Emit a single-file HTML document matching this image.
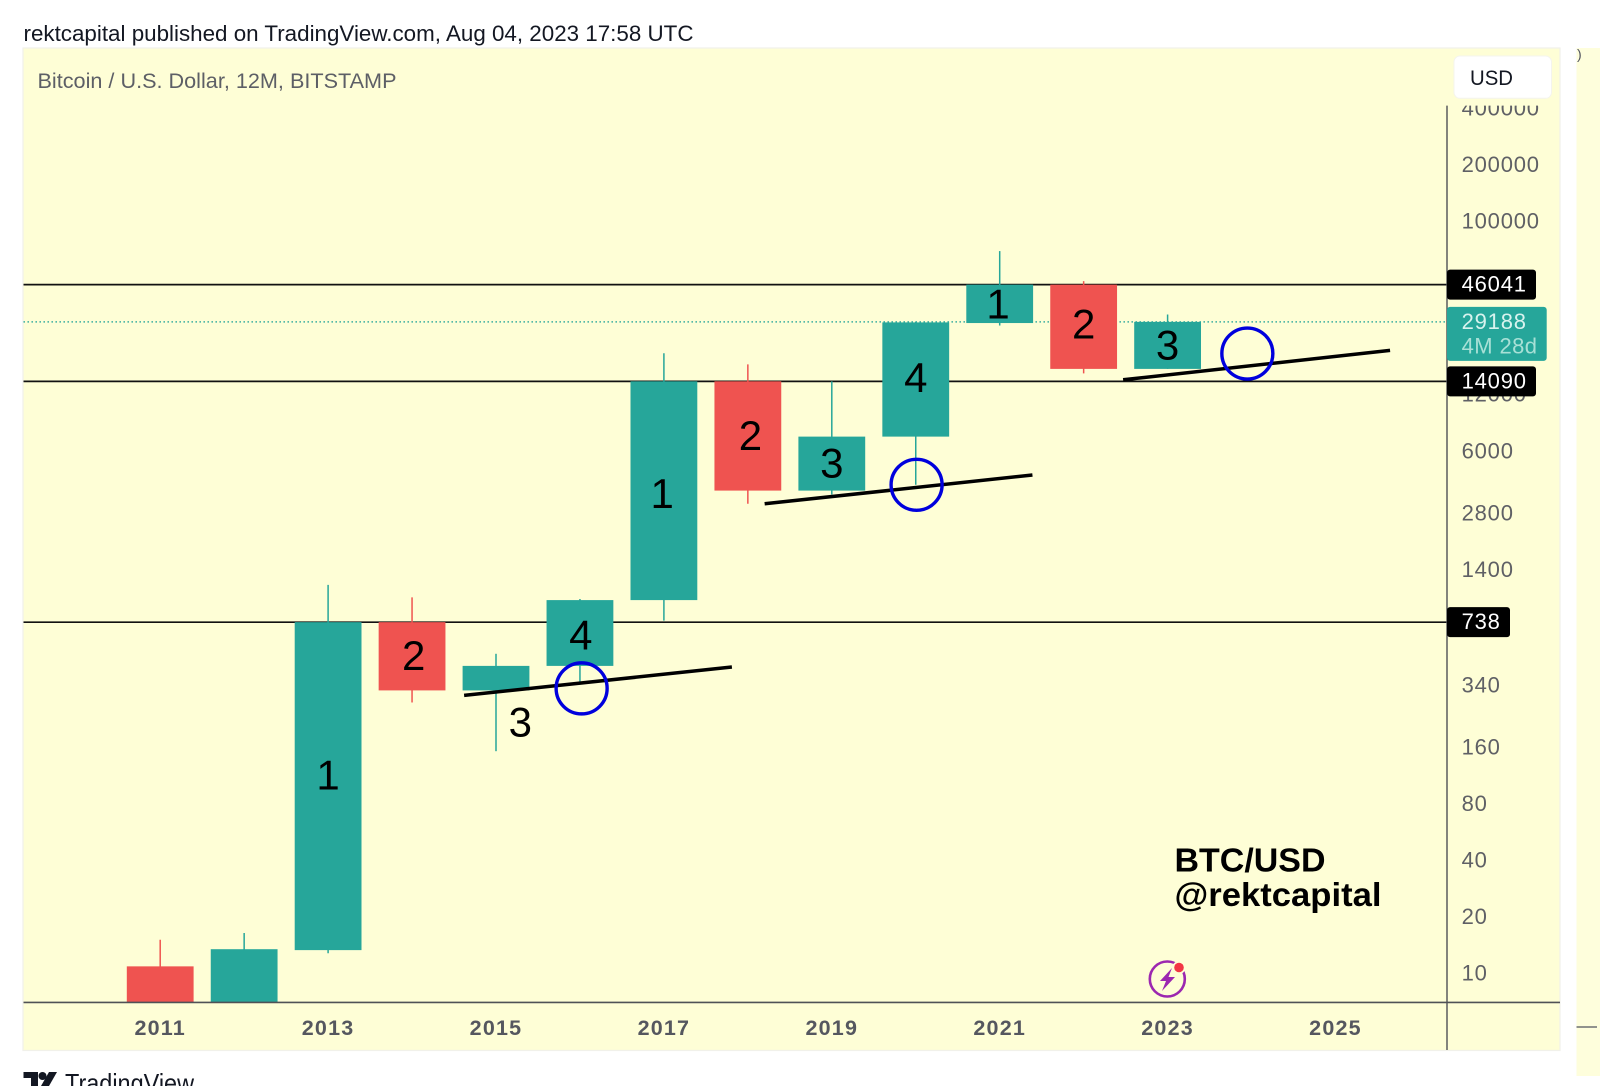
<!DOCTYPE html>
<html>
<head>
<meta charset="utf-8">
<title>Bitcoin / U.S. Dollar, 12M</title>
<style>
html,body{margin:0;padding:0;background:#fff;width:1600px;height:1086px;overflow:hidden}
svg{display:block}
text{font-family:"Liberation Sans",sans-serif}
</style>
</head>
<body>
<svg id="chart" width="1600" height="1086" viewBox="0 0 1600 1086" xmlns="http://www.w3.org/2000/svg">
  <defs>
    <clipPath id="plot-clip"><rect x="23.5" y="48.5" width="1423.5" height="953.5"/></clipPath>
    <clipPath id="price-clip"><rect x="1448" y="105.6" width="111" height="895"/></clipPath>
  </defs>

  <text x="23.5" y="41" font-size="22" fill="#131722" textLength="670" lengthAdjust="spacingAndGlyphs">rektcapital published on TradingView.com, Aug 04, 2023 17:58 UTC</text>

  <rect x="23" y="48" width="1537" height="1002.5" fill="#fefed6" stroke="#f1f1ea" stroke-width="1.2"/>
  <rect x="1576.5" y="48" width="23.5" height="1028" fill="#fefedc"/>
  <text x="1577" y="59" font-size="14" fill="#50535e">)</text>
  <line x1="1576.5" y1="1027" x2="1597" y2="1027" stroke="#50535e" stroke-width="1.2"/>

  <text x="37.5" y="88" font-size="21.5" fill="#5d5f66" textLength="359" lengthAdjust="spacingAndGlyphs">Bitcoin / U.S. Dollar, 12M, BITSTAMP</text>

  <g id="y-ticks" clip-path="url(#price-clip)"></g>
  <g id="h-lines"></g>
  <g id="candles" clip-path="url(#plot-clip)"></g>
  <g id="trend-lines"></g>
  <g id="circles"></g>
  <g id="count-labels"></g>

  <line x1="23.5" y1="1002.4" x2="1560" y2="1002.4" stroke="#4f5156" stroke-width="1.6"/>
  <line x1="1447" y1="105.6" x2="1447" y2="1050" stroke="#4f5156" stroke-width="1.4"/>
  <g id="x-ticks"></g>
  <g id="price-tags"></g>

  <g>
    <rect x="1454" y="56" width="97.5" height="42.3" rx="6" fill="#ffffff" stroke="#f4f4ee"/>
    <text x="1470" y="85" font-size="21" fill="#131722" textLength="43" lengthAdjust="spacingAndGlyphs">USD</text>
  </g>

  <text x="1174.5" y="871.5" font-size="33" font-weight="700" fill="#000" textLength="151" lengthAdjust="spacingAndGlyphs">BTC/USD</text>
  <text x="1174.5" y="906" font-size="33" font-weight="700" fill="#000" textLength="207" lengthAdjust="spacingAndGlyphs">@rektcapital</text>

  <g>
    <circle cx="1167.3" cy="979" r="17.5" fill="none" stroke="#9c27b0" stroke-width="2.6"/>
    <polygon points="1172,968 1160,981 1166,981 1162,991 1175,977 1168.5,977" fill="#9c27b0"/>
    <circle cx="1179" cy="967.5" r="6.5" fill="#fefed6"/>
    <circle cx="1179" cy="967.5" r="4.8" fill="#f23645"/>
  </g>

  <g>
    <polygon points="23.5,1072 38,1072 38,1086 31,1086 31,1078 23.5,1078" fill="#131722"/>
    <circle cx="42.5" cy="1076" r="4" fill="#131722"/>
    <polygon points="49,1072 57,1072 49,1086 41,1086" fill="#131722"/>
    <text x="65" y="1092" font-size="26" fill="#131722" textLength="129" lengthAdjust="spacingAndGlyphs">TradingView</text>
  </g>
</svg>

<script>
// Candle data (12M bars)
const years  = [2011, 2012, 2013, 2014, 2015, 2016, 2017, 2018, 2019, 2020, 2021, 2022, 2023];
const opens  = [10.9, 4.5, 13.3, 738, 320, 432, 967, 14090, 3697, 7160, 28770, 46041, 16410];
const highs  = [15.1, 16.4, 1165, 1000, 501, 980, 19880, 17350, 14090, 29188, 69450, 48060, 31940];
const lows   = [4.4, 4.3, 12.8, 276, 152, 357, 752, 3145, 3525, 3970, 27910, 15530, 16410];
const closes = [4.5, 13.45, 738, 320, 432, 967, 14090, 3697, 7160, 29000, 46041, 16410, 29188];

// Axis ticks
const xTickYears = [2011, 2013, 2015, 2017, 2019, 2021, 2023, 2025];
const yTickValues = [400000, 200000, 100000, 12000, 6000, 2800, 1400, 340, 160, 80, 40, 20, 10];

// Horizontal levels and last price
const levelValues = [46041, 14090, 738];
const lastPrice = 29188;
const countdownText = "4M 28d";

// Drawings, in year / price units
const trendStartYears = [2014.62, 2018.2, 2022.47];
const trendStartPrices = [301, 3145, 14360];
const trendEndYears = [2017.81, 2021.39, 2025.65];
const trendEndPrices = [426, 4475, 20580];
const circleYears = [2016.02, 2020.01, 2023.95];
const circlePrices = [328, 3970, 19810];
const countTexts = ["1", "2", "3", "4", "1", "2", "3", "4", "1", "2", "3"];
const countYears = [2013.0, 2014.02, 2015.29, 2016.01, 2016.98, 2018.03, 2019.0, 2020.0, 2020.98, 2022.0, 2023.0];
const countPrices = [113.5, 490.7, 217, 632, 3570, 7250, 5180, 14800, 36330, 28510, 21940];

// Axis functions
function xOf(year) { return 160.2 + (year - 2011) * 83.95; }
function yOf(price) { return 973.4 - 56.6 * Math.log2(price / 10); }

const NS = "http://www.w3.org/2000/svg";
function mk(tag, parentId, attrs, txt) {
  const el = document.createElementNS(NS, tag);
  for (const k in attrs) el.setAttribute(k, attrs[k]);
  if (txt !== undefined) el.textContent = txt;
  document.getElementById(parentId).appendChild(el);
  return el;
}

const GREEN = "#26a69a", RED = "#ef5350", BODY_W = 66.8;

// Y ticks
yTickValues.forEach(function (v) {
  const t = mk("text", "y-ticks", { x: 1461.6, y: yOf(v) - 0.2, "font-size": 22, "letter-spacing": 0.8, fill: "#5f6065", "dominant-baseline": "central" }, String(v));
  
  
});

// Horizontal levels
levelValues.forEach(function (v) {
  const l = mk("line", "h-lines", { x1: 23.5, x2: 1447, y1: yOf(v), y2: yOf(v), stroke: "#111", "stroke-width": 1.7 });
  
  
});
const dotted = mk("line", "h-lines", { x1: 23.5, x2: 1447, y1: yOf(lastPrice), y2: yOf(lastPrice), stroke: GREEN, "stroke-width": 1.4, "stroke-dasharray": "1.4 2.6" });



// Candles
years.forEach(function (yr, i) {
  const up = closes[i] >= opens[i];
  const color = up ? GREEN : RED;
  const cx = xOf(yr);
  const top = yOf(Math.max(opens[i], closes[i]));
  const bot = yOf(Math.min(opens[i], closes[i]));
  const wick = mk("line", "candles", { x1: cx, x2: cx, y1: yOf(highs[i]), y2: yOf(lows[i]), stroke: color, "stroke-width": 1.5 });
  
  
  const body = mk("rect", "candles", { x: cx - BODY_W / 2, y: top, width: BODY_W, height: bot - top, fill: color });
  
  
});

// Trend lines
trendStartYears.forEach(function (yr, i) {
  const l = mk("line", "trend-lines", { x1: xOf(yr), y1: yOf(trendStartPrices[i]), x2: xOf(trendEndYears[i]), y2: yOf(trendEndPrices[i]), stroke: "#000", "stroke-width": 3.5 });
  
  
});

// Circle markers
circleYears.forEach(function (yr, i) {
  const c = mk("circle", "circles", { cx: xOf(yr), cy: yOf(circlePrices[i]), r: 25.5, fill: "none", stroke: "#0000dd", "stroke-width": 3.4 });
  
  
});

// Count labels
countTexts.forEach(function (s, i) {
  const t = mk("text", "count-labels", { x: xOf(countYears[i]), y: yOf(countPrices[i]), "font-size": 42, fill: "#000", "text-anchor": "middle", "dominant-baseline": "central" }, s);
  
  
});

// X ticks
xTickYears.forEach(function (yr) {
  const t = mk("text", "x-ticks", { x: xOf(yr), y: 1028, "font-size": 21.5, "font-weight": 700, "letter-spacing": 1.2, fill: "#55575f", "text-anchor": "middle", "dominant-baseline": "central" }, String(yr));
  
  
});

// Price tags
levelValues.forEach(function (v) {
  const s = String(v);
  const y = yOf(v);
  const b = mk("rect", "price-tags", { x: 1447, y: y - 15, width: s.length * 13 + 24, height: 30, rx: 3, fill: "#000" });
  
  
  const t = mk("text", "price-tags", { x: 1461.6, y: y - 0.5, "font-size": 22, "letter-spacing": 0.8, fill: "#fff", "dominant-baseline": "central" }, s);
  
  
});
const lastY = yOf(lastPrice);
const lastBox = mk("rect", "price-tags", { x: 1447, y: lastY - 15, width: 99.7, height: 54, rx: 3, fill: GREEN });


const lastText = mk("text", "price-tags", { x: 1461.6, y: lastY - 0.5, "font-size": 22, "letter-spacing": 0.8, fill: "#d8f3ee", "dominant-baseline": "central" }, String(lastPrice));


const cdText = mk("text", "price-tags", { x: 1461.6, y: lastY + 24, "font-size": 22, "letter-spacing": 0.4, fill: "#a8e0d6", "dominant-baseline": "central" }, countdownText);


</script>
</body>
</html>
